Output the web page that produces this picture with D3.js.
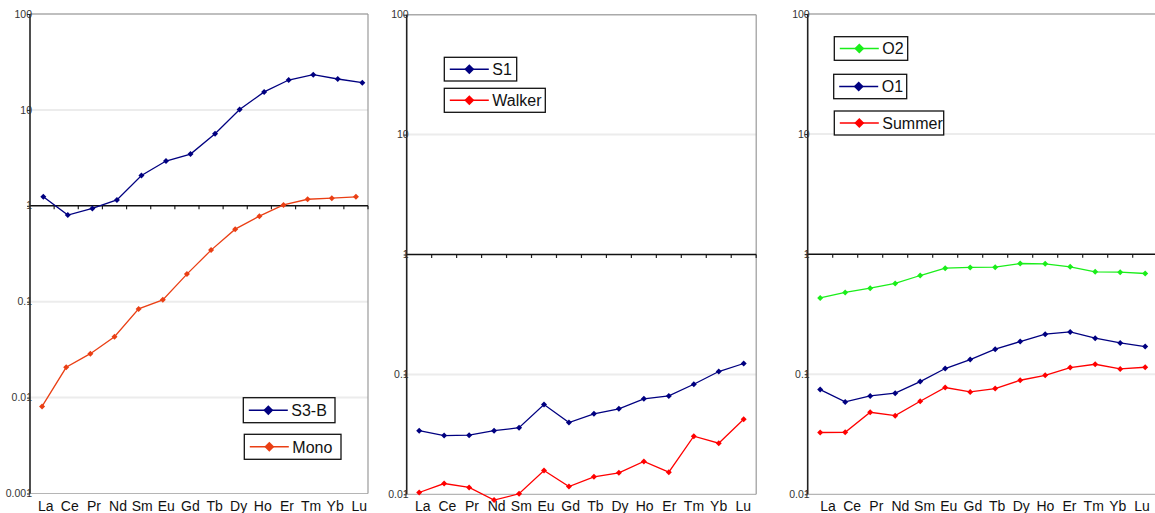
<!DOCTYPE html>
<html>
<head>
<meta charset="utf-8">
<script src="https://cdn.jsdelivr.net/npm/d3@7"></script>
<style>
  html, body { margin: 0; padding: 0; background: #fff; }
  svg { display: block; font-family: "Liberation Sans", Arial, sans-serif; }
</style>
</head>
<body>
<svg id="chart" width="1155" height="513"></svg>
<script>
// Rare earth element patterns (chondrite-normalised), three log-scale panels
const elements = ["La", "Ce", "Pr", "Nd", "Sm", "Eu", "Gd", "Tb", "Dy", "Ho", "Er", "Tm", "Yb", "Lu"];

const s3b    = [1.24, 0.80, 0.94, 1.15, 2.07, 2.93, 3.46, 5.64, 10.1, 15.4, 20.5, 23.3, 21.0, 19.2];
const mono   = [0.0081, 0.0207, 0.0287, 0.0432, 0.0841, 0.1045, 0.194, 0.345, 0.571, 0.78, 1.02, 1.17, 1.20, 1.24];

const s1     = [0.0339, 0.0309, 0.0311, 0.0339, 0.0359, 0.0561, 0.0397, 0.0469, 0.0516, 0.0626, 0.0662, 0.0828, 0.1057, 0.1233];
const walker = [0.01035, 0.0123, 0.0114, 0.00895, 0.0101, 0.0158, 0.0116, 0.0140, 0.0151, 0.0188, 0.0153, 0.0305, 0.0267, 0.0423];

const o2     = [0.432, 0.480, 0.521, 0.570, 0.664, 0.764, 0.775, 0.779, 0.836, 0.830, 0.784, 0.712, 0.708, 0.690];
const o1     = [0.0745, 0.0588, 0.0659, 0.0695, 0.0869, 0.1115, 0.1325, 0.1616, 0.187, 0.2155, 0.2252, 0.1995, 0.1824, 0.170];
const summer = [0.0327, 0.0328, 0.0482, 0.0452, 0.0596, 0.0775, 0.0712, 0.0760, 0.0891, 0.098, 0.1137, 0.1211, 0.1107, 0.1143];

const ticksLeft  = [100, 10, 1, 0.1, 0.01, 0.001];
const ticksRight = [100, 10, 1, 0.1, 0.01];
const tickText = { 100: "100", 10: "10", 1: "1", 0.1: "0.1", 0.01: "0.01", 0.001: "0.001" };

const NAVY = "#000080", ORANGE = "#ea3f14", RED = "#ff0000", GREEN = "#1aee1a";

const svg = d3.select("#chart");

const panels = [
  {
    left: 30, right: 368, top: 14, bottom: 493.5, domain: [0.001, 100], ticks: ticksLeft,
    labelRange: [45.7, 359.3],
    series: [
      { name: "S3-B", values: s3b, color: NAVY, xRange: [43.3, 362.3] },
      { name: "Mono", values: mono, color: ORANGE }
    ],
    legend: [
      { name: "S3-B", color: NAVY, x: 243.3, y: 397.7, w: 91.7, h: 25 },
      { name: "Mono", color: ORANGE, x: 244.3, y: 434.3, w: 96.7, h: 25 }
    ],
    rightBorder: true
  },
  {
    left: 406.7, right: 756.2, top: 14.7, bottom: 494.3, domain: [0.01, 100], ticks: ticksRight,
    labelRange: [422.7, 743.3],
    series: [
      { name: "S1", values: s1, color: NAVY },
      { name: "Walker", values: walker, color: RED }
    ],
    legend: [
      { name: "S1", color: NAVY, x: 444.3, y: 57.3, w: 72.4, h: 23.7 },
      { name: "Walker", color: RED, x: 444.3, y: 88.3, w: 101, h: 24 }
    ],
    rightBorder: true
  },
  {
    left: 807.7, right: 1157.7, top: 14, bottom: 494.3, domain: [0.01, 100], ticks: ticksRight,
    labelRange: [828, 1142],
    series: [
      { name: "O2", values: o2, color: GREEN },
      { name: "O1", values: o1, color: NAVY },
      { name: "Summer", values: summer, color: RED }
    ],
    legend: [
      { name: "O2", color: GREEN, x: 834.3, y: 36.7, w: 73.4, h: 23.6 },
      { name: "O1", color: NAVY, x: 833.7, y: 74.3, w: 73, h: 24.4 },
      { name: "Summer", color: RED, x: 834.3, y: 111, w: 109.4, h: 24 }
    ],
    rightBorder: false
  }
];

const diamond = r => `M0,${-r}L${r},0L0,${r}L${-r},0Z`;

panels.forEach(p => {
  const g = svg.append("g");
  const y = d3.scaleLog().domain(p.domain).range([p.bottom, p.top]);
  const xBand = d3.scaleBand().domain(elements).range([p.left, p.right]);
  const xLabel = d3.scalePoint().domain(elements).range(p.labelRange);

  // faint decade gridlines
  g.selectAll("line.grid")
    .data(p.ticks.filter(t => t !== 1 && t !== p.domain[1] && t !== p.domain[0]))
    .join("line")
    .attr("x1", p.left).attr("x2", Math.min(p.right, 1155))
    .attr("y1", d => y(d)).attr("y2", d => y(d))
    .attr("stroke", "#ececec").attr("stroke-width", 2);

  // plot frame: top, bottom, right
  g.append("line").attr("x1", p.left).attr("x2", Math.min(p.right, 1155))
    .attr("y1", y(p.domain[1])).attr("y2", y(p.domain[1]))
    .attr("stroke", "#aaaaaa").attr("stroke-width", 1.6);
  g.append("line").attr("x1", p.left).attr("x2", Math.min(p.right, 1155))
    .attr("y1", y(p.domain[0])).attr("y2", y(p.domain[0]))
    .attr("stroke", "#b5b5b5").attr("stroke-width", 1.2);
  if (p.rightBorder) {
    g.append("line").attr("x1", p.right).attr("x2", p.right)
      .attr("y1", y(p.domain[1])).attr("y2", y(p.domain[0]))
      .attr("stroke", "#9a9a9a").attr("stroke-width", 1.2);
  }

  // category axis crossing at 1
  const xAxis = d3.axisBottom(xBand).tickSize(3.5).tickFormat("");
  const ax = g.append("g").attr("transform", `translate(0,${y(1)})`).call(xAxis);
  ax.select(".domain").remove();
  ax.selectAll(".tick line")
    .attr("transform", `translate(${xBand.bandwidth() / 2},0)`)
    .attr("stroke", "#222").attr("stroke-width", 1.2);
  g.append("line").attr("x1", p.left).attr("x2", Math.min(p.right, 1155))
    .attr("y1", y(1)).attr("y2", y(1)).attr("stroke", "#111").attr("stroke-width", 1.5);

  // value axis
  const yAxis = d3.axisLeft(y).tickValues(p.ticks).tickSize(3).tickFormat(d => tickText[d]);
  const ay = g.append("g").attr("transform", `translate(${p.left},0)`).call(yAxis);
  ay.select(".domain").attr("stroke", "#222").attr("stroke-width", 1.6).attr("d", `M0,${y(p.domain[1])}V${y(p.domain[0])}`);
  ay.selectAll(".tick line").attr("stroke", "#222");
  ay.selectAll(".tick text")
    .attr("x", 2).attr("dy", "0.3em")
    .attr("font-size", 10.5).attr("fill", "#333")
    .attr("font-family", "'Liberation Sans', Arial, sans-serif");

  // element labels
  g.selectAll("text.el").data(elements).join("text")
    .attr("class", "el")
    .attr("x", d => xLabel(d)).attr("y", 510.5)
    .attr("text-anchor", "middle").attr("font-size", 14).attr("fill", "#111")
    .text(d => d);

  // series
  p.series.forEach(s => {
    const xs = s.xRange
      ? d3.scalePoint().domain(elements).range(s.xRange)
      : (d => xBand(d) + xBand.bandwidth() / 2);
    const pts = elements.map((e, i) => [xs(e), y(s.values[i])]);
    g.append("path")
      .attr("d", d3.line()(pts))
      .attr("fill", "none").attr("stroke", s.color).attr("stroke-width", 1.3);
    g.selectAll(null).data(pts).join("path")
      .attr("transform", d => `translate(${d[0]},${d[1]})`)
      .attr("d", diamond(3)).attr("fill", s.color);
  });

  // legend boxes
  p.legend.forEach(l => {
    const lg = g.append("g").attr("transform", `translate(${l.x},${l.y})`);
    lg.append("rect").attr("width", l.w).attr("height", l.h)
      .attr("fill", "#fff").attr("stroke", "#111").attr("stroke-width", 1.3);
    lg.append("line").attr("x1", 5.5).attr("x2", 44.5)
      .attr("y1", l.h / 2).attr("y2", l.h / 2)
      .attr("stroke", l.color).attr("stroke-width", 1.5);
    lg.append("path").attr("transform", `translate(25,${l.h / 2})`)
      .attr("d", diamond(5)).attr("fill", l.color);
    lg.append("text").attr("x", 48).attr("y", l.h / 2 + 6)
      .attr("font-size", 16).attr("fill", "#111").text(l.name);
  });
});
</script>
</body>
</html>
